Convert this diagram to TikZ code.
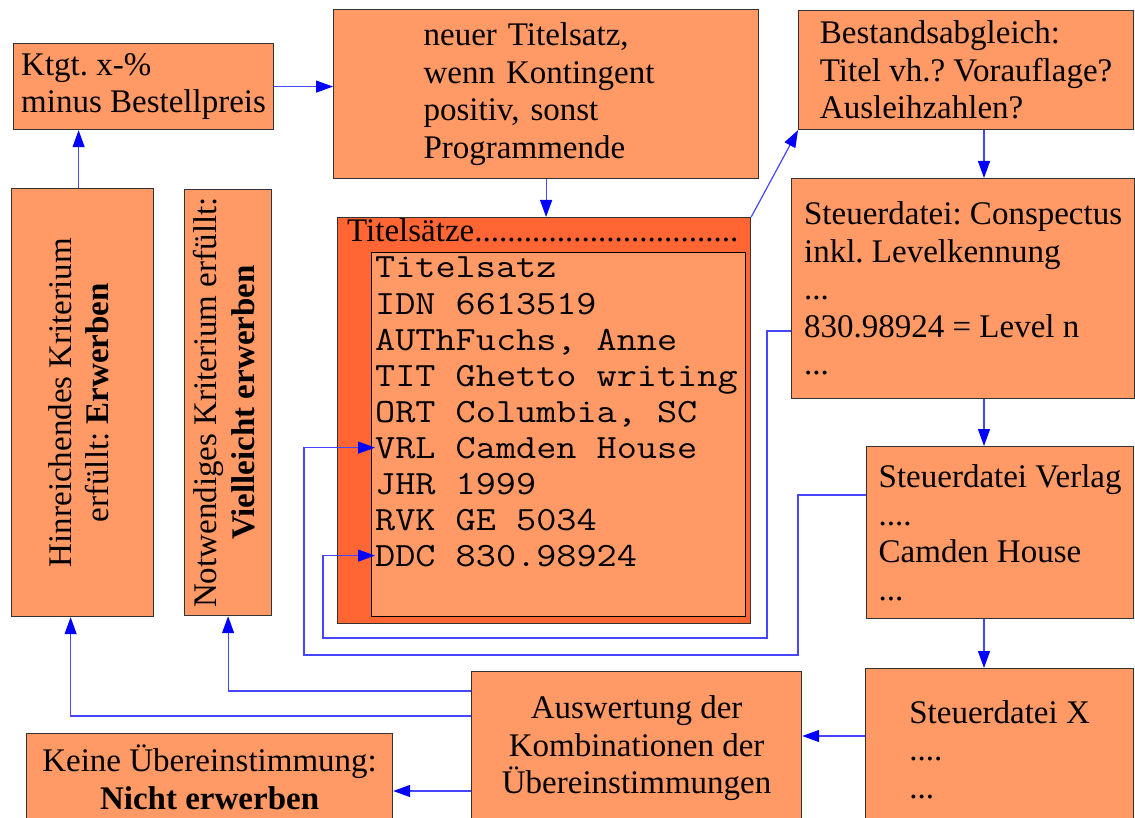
\documentclass[tikz,border=0pt]{standalone}
\usepackage{fontspec}
\setmainfont{Liberation Serif}
\setmonofont{Latin Modern Mono}[FakeStretch=1.15]
\usetikzlibrary{
  positioning,
  calc,
  arrows.meta
}
\definecolor{lachs}{RGB}{255,153,102}
\definecolor{orangerot}{RGB}{255,102,51}
\definecolor{linienblau}{RGB}{70,70,255}
\frenchspacing

\begin{document}
\begin{tikzpicture}[x=1pt, y=-1pt,
    font=\fontsize{33}{37.5}\selectfont,
    box/.style={draw=black!80, line width=1.2pt, fill=lachs, anchor=north west, align=left, inner sep=0pt},
    feld/.style={anchor=base west, inner sep=0pt, font=\ttfamily\fontsize{34}{36}\selectfont},
    pfeil/.style={draw=linienblau, line width=1.2pt, -{Triangle[length=17pt, width=12pt, color=blue]}}]
    \useasboundingbox (0,0) rectangle (1135,818);

    \node[box, minimum width=260, minimum height=86] (kontingent) at (13,43) {Ktgt. x-\%\\minus Bestellpreis};
    \node[box, text width=245, minimum width=425, minimum height=169] (titelsatz) at (333,9) {neuer Titelsatz,\\wenn Kontingent\\positiv, sonst\\Programmende};
    \node[box, minimum width=335, minimum height=119] (bestand) at (798,10) {Bestandsabgleich:\\Titel vh.? Vorauflage?\\Ausleihzahlen?};
    \node[box, minimum width=343, minimum height=220] (conspectus) at (791,178) {Steuerdatei: Conspectus\\inkl. Levelkennung\\...\\830.98924 = Level n\\...};
    \node[box, minimum width=267, minimum height=172] (verlag) at (866,446) {Steuerdatei Verlag\\....\\Camden House\\...};
    \node[box, minimum width=268, minimum height=162] (steuerx) at (865,668) {Steuerdatei X\\....\\...};
    \node[box, align=center, minimum width=330, minimum height=154] (auswertung) at (471,671) {Auswertung der\\Kombinationen der\\Übereinstimmungen};
    \node[box, align=center, minimum width=366, minimum height=87] (keine) at (26,733) {Keine Übereinstimmung:\\\textbf{Nicht erwerben}};
    \node[box, minimum width=142, minimum height=428] (hinreichend) at (11,188)
      {\rotatebox{90}{\begin{tabular}{@{}c@{}}Hinreichendes Kriterium\\erfüllt: \textbf{Erwerben}\end{tabular}}};
    \node[box, minimum width=87, minimum height=426] (notwendig) at (184,189)
      {\rotatebox{90}{\begin{tabular}{@{}c@{}}Notwendiges Kriterium erfüllt:\\\textbf{Vielleicht erwerben}\end{tabular}}};

    \node[box, fill=orangerot, minimum width=413, minimum height=406] (saetze) at (337,217) {};
    \node[anchor=base west, inner sep=0pt] (saetzekopf) at (347,242) {Titelsätze................................};
    \node[box, draw=black, minimum width=374, minimum height=364] (satz) at (371,252) {};
    \foreach \zeile [count=\i] in {Titelsatz, IDN 6613519, {AUThFuchs, Anne}, TIT Ghetto writing,
        {ORT Columbia, SC}, VRL Camden House, JHR 1999, RVK GE 5034, DDC 830.98924}
      \node[feld] (feld\i) at (375,{242+36*\i}) {\zeile};

    \coordinate (spalte) at (984,0);
    \draw[pfeil] (kontingent.east) -- (kontingent.east -| titelsatz.west);
    \draw[pfeil] (titelsatz.south) -- (titelsatz.south |- saetze.north);
    \draw[pfeil] (saetze.north east) -- (bestand.south west);
    \draw[pfeil] (bestand.south -| spalte) -- (conspectus.north -| spalte);
    \draw[pfeil] (conspectus.south -| spalte) -- (verlag.north -| spalte);
    \draw[pfeil] (verlag.south -| spalte) -- (steuerx.north -| spalte);
    \draw[pfeil] (steuerx.west |- 0,736) -- (auswertung.east |- 0,736);
    \draw[pfeil] (auswertung.west |- 0,791) -- (keine.east |- 0,791);
    \draw[pfeil] (auswertung.west |- 0,716) -| ([xshift=-12pt]hinreichend.south);
    \draw[pfeil] (auswertung.west |- 0,691) -| (notwendig.south);
    \draw[pfeil] ([xshift=-4pt]hinreichend.north) -- ([xshift=-4pt]hinreichend.north |- kontingent.south);
    \draw[pfeil] (conspectus.west |- 0,331) -| (767,638) -| ([xshift=-52pt]feld9.west) -- (feld9.west);
    \draw[pfeil] (verlag.west |- 0,495) -| (798,655) -| ([xshift=-71pt]feld6.west) -- (feld6.west);
\end{tikzpicture}
\end{document}
